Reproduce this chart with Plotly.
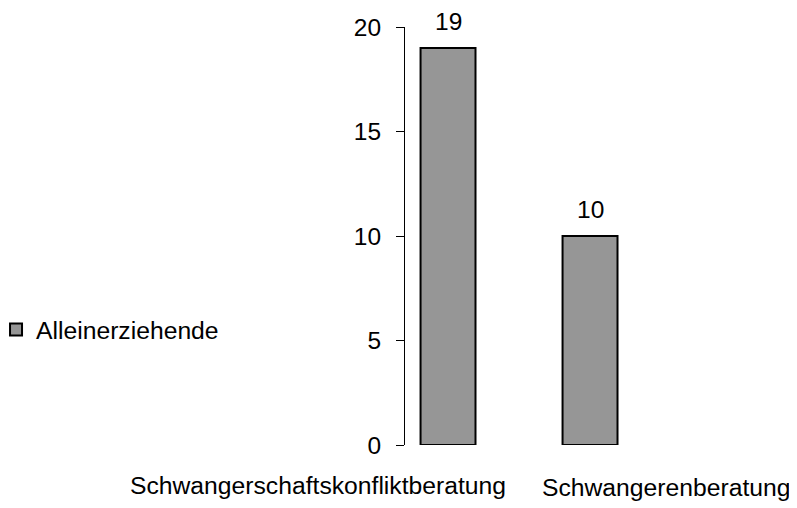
import plotly.graph_objects as go

# Daten
kategorien = ["Schwangerschaftskonfliktberatung", "Schwangerenberatung"]
werte = [19, 10]
serie = "Alleinerziehende"
y_ticks = [0, 5, 10, 15, 20]

fig = go.Figure()
fig.add_trace(go.Bar(
    x=list(range(len(kategorien))), y=werte, name=serie, width=0.387,
    marker=dict(color="#969696", line=dict(color="black", width=2)),
    showlegend=True,
))

# Wertbeschriftungen über den Balken
for i, v in enumerate(werte):
    fig.add_annotation(x=i, y=v, text=str(v), showarrow=False,
                       yanchor="bottom", yshift=11, font=dict(size=24.5))

# Kategorienbeschriftungen wie im Original versetzt
label_pos = [(-0.305, -0.096), (0.917, -0.101)]
for name, (lx, ly) in zip(kategorien, label_pos):
    fig.add_annotation(text=name, x=lx, y=ly, xref="paper", yref="paper",
                       showarrow=False, xanchor="center", yanchor="middle",
                       font=dict(size=24.7))

fig.update_layout(
    width=789, height=500,
    margin=dict(l=397, r=107, t=19, b=63, autoexpand=False),
    plot_bgcolor="white", paper_bgcolor="white",
    font=dict(family="Liberation Sans, Arial, sans-serif", size=24, color="black"),
    legend=dict(x=-1.435, y=0.275, xanchor="left", yanchor="middle",
                font=dict(size=24.7), itemwidth=30, bgcolor="rgba(0,0,0,0)"),
    xaxis=dict(range=[-0.303, 1.704], showticklabels=False, showgrid=False,
               zeroline=False, showline=False, ticks=""),
    yaxis=dict(range=[0, 20], tickvals=y_ticks, showgrid=False, zeroline=False,
               showline=True, linecolor="black", linewidth=1,
               ticks="outside", ticklen=8, tickcolor="black",
               ticklabelstandoff=10, tickfont=dict(size=24.5)),
)

fig.write_html("out.html")
